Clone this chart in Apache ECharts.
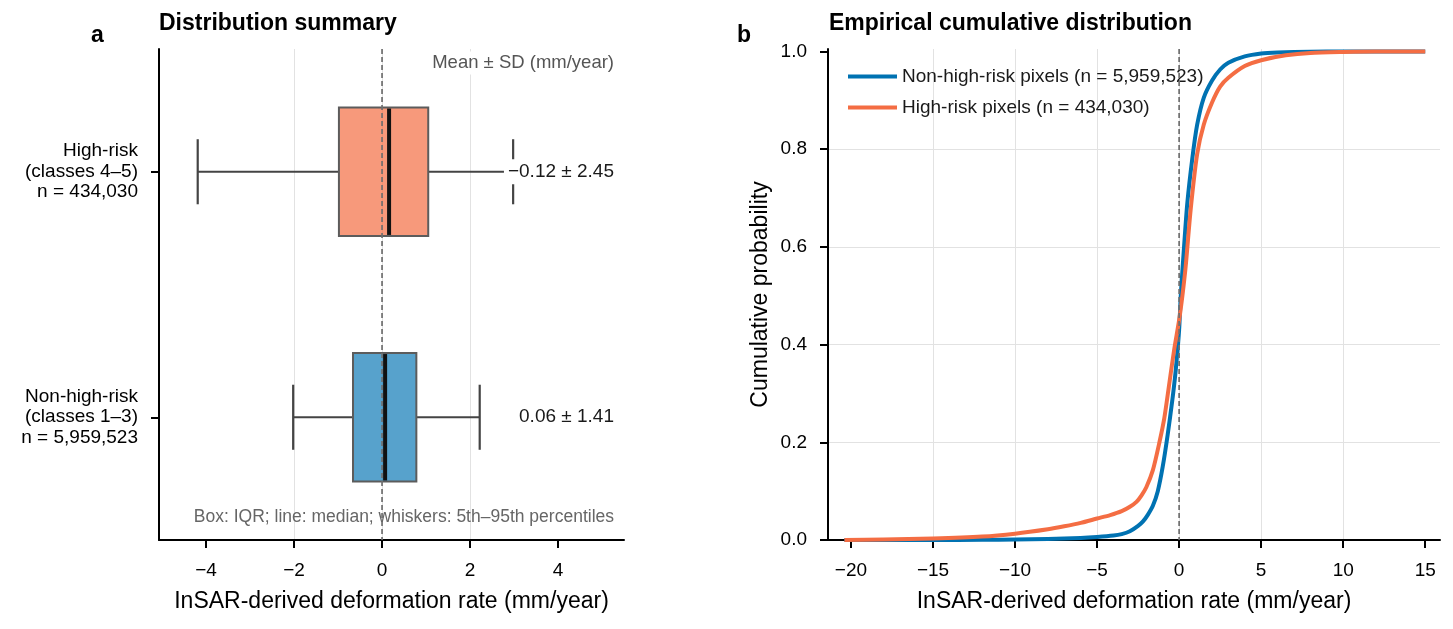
<!DOCTYPE html>
<html><head><meta charset="utf-8">
<script src="https://cdn.jsdelivr.net/npm/echarts@6/dist/echarts.min.js"></script>
<style>html,body{margin:0;padding:0;background:#fff}#c{width:1453px;height:629px}</style>
</head><body><div id="c"></div>
<script>
// ---------- Panel a: distribution summary ----------
const groupLabels = ['Non-high-risk\n(classes 1–3)\nn = 5,959,523', 'High-risk\n(classes 4–5)\nn = 434,030'];
const p5 = [-2.02, -4.19];
const q1 = [-0.66, -0.98];
const medians = [0.07, 0.16];
const q3 = [0.78, 1.05];
const p95 = [2.22, 2.98];
const means = [0.06, -0.12];
const sds = [1.41, 2.45];
const boxColors = ['rgba(0,114,178,0.66)', 'rgba(244,109,67,0.7)'];
const leftTicks = [-4, -2, 0, 2, 4];

// ---------- Panel b: empirical CDF ----------
const cdfNonName = 'Non-high-risk pixels (n = 5,959,523)';
const cdfHighName = 'High-risk pixels (n = 434,030)';
const cdfNonX = [-20.4, -15, -12, -10, -8, -6, -5, -4, -3.5, -3, -2.5, -2.2, -1.9, -1.6, -1.3, -1.0, -0.7, -0.4, -0.2, 0, 0.1, 0.3, 0.5, 0.8, 1.1, 1.5, 2, 2.5, 3, 4, 5, 6, 8, 10, 15];
const cdfNonY = [0, 0, 0.0005, 0.001, 0.002, 0.004, 0.006, 0.009, 0.012, 0.018, 0.029, 0.038, 0.052, 0.07, 0.1, 0.15, 0.215, 0.29, 0.35, 0.43, 0.5, 0.6, 0.69, 0.78, 0.85, 0.905, 0.94, 0.963, 0.977, 0.99, 0.996, 0.998, 0.9995, 1, 1];
const cdfHighX = [-20.4, -18, -15, -12, -10, -8, -7, -6, -5, -4.2, -3.5, -3, -2.6, -2.3, -2, -1.6, -1.2, -0.9, -0.6, -0.3, 0, 0.2, 0.4, 0.7, 1.1, 1.5, 2, 2.5, 3, 4, 5, 6.5, 8, 10, 12, 15];
const cdfHighY = [0, 0.001, 0.003, 0.007, 0.013, 0.022, 0.028, 0.035, 0.044, 0.051, 0.059, 0.068, 0.078, 0.091, 0.108, 0.143, 0.2, 0.25, 0.32, 0.39, 0.45, 0.5, 0.56, 0.675, 0.79, 0.85, 0.895, 0.928, 0.946, 0.97, 0.982, 0.992, 0.997, 0.999, 1, 1];
const rightXTicks = [-20, -15, -10, -5, 0, 5, 10, 15];
const rightYTicks = [0, 0.2, 0.4, 0.6, 0.8, 1.0];

const FONT = "'Liberation Sans', Arial, sans-serif";
const minus = v => (v < 0 ? '\u2212' : '') + Math.abs(v);
const fmt2 = v => (v < 0 ? '\u2212' : '') + Math.abs(v).toFixed(2);

const boxData = groupLabels.map((_, i) => [i, p5[i], q1[i], medians[i], q3[i], p95[i]]);
const medData = groupLabels.map((_, i) => [i, medians[i], means[i], sds[i]]);

function renderBox(params, api) {
  const cat = api.value(0);
  const band = api.size([0, 1])[1];
  const c = api.coord([0, cat])[1];
  const hb = band * 0.2615, hc = band * 0.1325;
  const xa = api.coord([api.value(1), cat])[0];
  const xq1 = api.coord([api.value(2), cat])[0];
  const xq3 = api.coord([api.value(4), cat])[0];
  const xb = api.coord([api.value(5), cat])[0];
  const ws = { stroke: '#444', lineWidth: 2.2 };
  return { type: 'group', children: [
    { type: 'line', shape: { x1: xa, y1: c, x2: xq1, y2: c }, style: ws },
    { type: 'line', shape: { x1: xq3, y1: c, x2: xb, y2: c }, style: ws },
    { type: 'line', shape: { x1: xa, y1: c - hc, x2: xa, y2: c + hc }, style: ws },
    { type: 'line', shape: { x1: xb, y1: c - hc, x2: xb, y2: c + hc }, style: ws },
    { type: 'rect', shape: { x: xq1, y: c - hb, width: xq3 - xq1, height: 2 * hb },
      style: { fill: boxColors[params.dataIndex], stroke: '#5c5c5c', lineWidth: 2 } }
  ]};
}

function renderMedian(params, api) {
  const cat = api.value(0);
  const band = api.size([0, 1])[1];
  const c = api.coord([0, cat])[1];
  const hb = band * 0.2615;
  const xm = api.coord([api.value(1), cat])[0];
  const cs = params.coordSys;
  return { type: 'group', children: [
    { type: 'line', shape: { x1: xm, y1: c - hb + 1, x2: xm, y2: c + hb - 1 }, style: { stroke: '#111', lineWidth: 4 } },
    { type: 'text', z2: 10, style: { x: cs.x + cs.width - 8, y: c, text: fmt2(api.value(2)) + ' \u00b1 ' + api.value(3).toFixed(2),
      fill: '#1a1a1a', fontSize: 19, fontFamily: FONT, align: 'right', verticalAlign: 'middle',
      backgroundColor: '#fff', padding: [3, 2, 3, 4] } }
  ]};
}

function renderZeroLeft(params, api) {
  const cs = params.coordSys;
  const x0 = api.coord([0, 0])[0];
  return { type: 'group', children: [
    { type: 'line', shape: { x1: x0, y1: cs.y, x2: x0, y2: cs.y + cs.height }, style: { stroke: '#6f6f6f', lineWidth: 1.7, lineDash: [5, 3] } },
    { type: 'text', style: { x: cs.x + cs.width - 8, y: cs.y + 14, text: 'Mean \u00b1 SD (mm/year)', fill: '#555', fontSize: 18.5, fontFamily: FONT,
      align: 'right', verticalAlign: 'middle', backgroundColor: '#fff', padding: [2, 2, 2, 2] } },
    { type: 'text', style: { x: cs.x + cs.width - 10, y: cs.y + cs.height - 23, text: 'Box: IQR; line: median; whiskers: 5th\u201395th percentiles',
      fill: '#666', fontSize: 17.5, fontFamily: FONT, align: 'right', verticalAlign: 'middle' } }
  ]};
}

function renderZeroRight(params, api) {
  const cs = params.coordSys;
  const x0 = api.coord([0, 0])[0];
  return { type: 'line', shape: { x1: x0, y1: cs.y, x2: x0, y2: cs.y + cs.height }, style: { stroke: '#6f6f6f', lineWidth: 1.7, lineDash: [5, 3] } };
}

const axisLineStyle = { show: true, onZero: false, lineStyle: { color: '#000', width: 2 } };
const tickStyle = { show: true, length: 8, lineStyle: { color: '#000', width: 2 } };
const gridLine = { show: true, showMinLine: false, showMaxLine: false, lineStyle: { color: '#e2e2e2', width: 1 } };

const option = {
  backgroundColor: '#fff',
  animation: false,
  textStyle: { fontFamily: FONT },
  title: [
    { text: 'Distribution summary', left: 159, top: 12, padding: 0, textStyle: { fontSize: 23, fontWeight: 'bold', color: '#000', fontFamily: FONT } },
    { text: 'a', left: 91, top: 24, padding: 0, textStyle: { fontSize: 23, fontWeight: 'bold', color: '#000', fontFamily: FONT } },
    { text: 'Empirical cumulative distribution', left: 829, top: 12, padding: 0, textStyle: { fontSize: 23, fontWeight: 'bold', color: '#000', fontFamily: FONT } },
    { text: 'b', left: 737, top: 24, padding: 0, textStyle: { fontSize: 23, fontWeight: 'bold', color: '#000', fontFamily: FONT } }
  ],
  legend: {
    data: [cdfNonName, cdfHighName], orient: 'vertical', left: 848, top: 67, padding: 0,
    itemWidth: 49, itemHeight: 4, itemGap: 12, icon: 'rect',
    textStyle: { fontSize: 19, color: '#1a1a1a', fontFamily: FONT }
  },
  grid: [
    { left: 159, top: 49, width: 465, height: 491 },
    { left: 828, top: 49, width: 612, height: 491 }
  ],
  xAxis: [
    { gridIndex: 0, type: 'value', min: -5.07, max: 5.5,
      axisLine: axisLineStyle, axisTick: Object.assign({ customValues: leftTicks }, tickStyle),
      axisLabel: { customValues: leftTicks, formatter: minus, fontSize: 19, color: '#000', margin: 21 },
      splitLine: gridLine,
      name: 'InSAR-derived deformation rate (mm/year)', nameLocation: 'middle', nameGap: 50,
      nameTextStyle: { fontSize: 23, color: '#000' } },
    { gridIndex: 1, type: 'value', min: -21.4, max: 15.9,
      axisLine: axisLineStyle, axisTick: Object.assign({ customValues: rightXTicks }, tickStyle),
      axisLabel: { customValues: rightXTicks, formatter: minus, fontSize: 19, color: '#000', margin: 21 },
      splitLine: gridLine,
      name: 'InSAR-derived deformation rate (mm/year)', nameLocation: 'middle', nameGap: 50,
      nameTextStyle: { fontSize: 23, color: '#000' } }
  ],
  yAxis: [
    { gridIndex: 0, type: 'category', data: groupLabels, boundaryGap: true,
      axisLine: axisLineStyle, axisTick: Object.assign({ alignWithLabel: true }, tickStyle),
      axisLabel: { fontSize: 19, lineHeight: 20.5, color: '#000', margin: 21, align: 'right' },
      splitLine: { show: false } },
    { gridIndex: 1, type: 'value', min: 0, max: 1.005,
      axisLine: axisLineStyle, axisTick: Object.assign({ customValues: rightYTicks }, tickStyle),
      axisLabel: { customValues: rightYTicks, formatter: v => v.toFixed(1), fontSize: 19, color: '#000', margin: 21 },
      splitLine: gridLine,
      name: 'Cumulative probability', nameLocation: 'middle', nameGap: 56,
      nameTextStyle: { fontSize: 23, color: '#000' } }
  ],
  series: [
    { type: 'custom', name: 'boxes', xAxisIndex: 0, yAxisIndex: 0, z: 2, data: boxData,
      encode: { x: [1, 2, 3, 4, 5], y: 0 }, renderItem: renderBox, silent: true },
    { type: 'custom', name: 'zeroA', xAxisIndex: 0, yAxisIndex: 0, z: 3, data: [[0, 0]],
      encode: { x: 0, y: 1 }, renderItem: renderZeroLeft, silent: true },
    { type: 'custom', name: 'medians', xAxisIndex: 0, yAxisIndex: 0, z: 4, data: medData,
      encode: { x: 1, y: 0 }, renderItem: renderMedian, silent: true },
    { type: 'line', name: cdfNonName, xAxisIndex: 1, yAxisIndex: 1, z: 3,
      data: cdfNonX.map((x, i) => [x, cdfNonY[i]]), showSymbol: false, symbol: 'none',
      smooth: 0.25, color: '#0072B2', lineStyle: { width: 4, color: '#0072B2', join: 'round' } },
    { type: 'line', name: cdfHighName, xAxisIndex: 1, yAxisIndex: 1, z: 4,
      data: cdfHighX.map((x, i) => [x, cdfHighY[i]]), showSymbol: false, symbol: 'none',
      smooth: 0.25, color: '#F46D43', lineStyle: { width: 4, color: '#F46D43', join: 'round' } },
    { type: 'custom', name: 'zeroB', xAxisIndex: 1, yAxisIndex: 1, z: 5, data: [[0, 0]],
      encode: { x: 0, y: 1 }, renderItem: renderZeroRight, silent: true }
  ]
};

const chart = echarts.init(document.getElementById('c'), null, { renderer: 'canvas' });
chart.setOption(option);
</script></body></html>
